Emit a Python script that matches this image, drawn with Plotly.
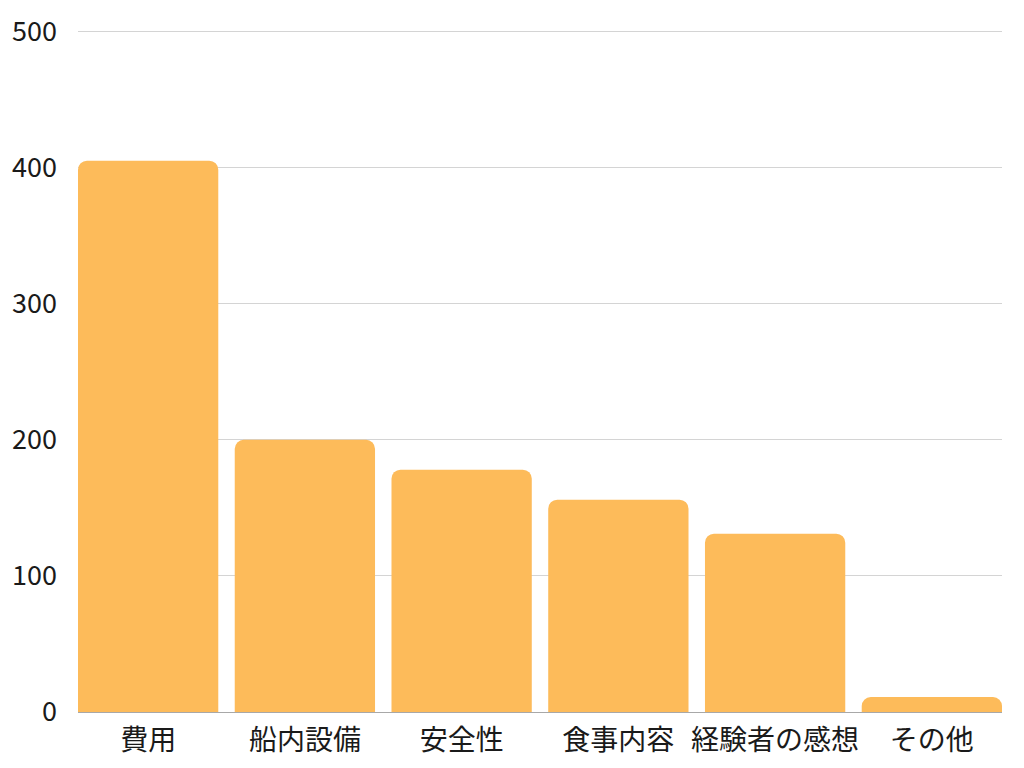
import plotly.graph_objects as go

categories = ["費用", "船内設備", "安全性", "食事内容", "経験者の感想", "その他"]
counts = [405, 200, 178, 156, 131, 11]
y_ticks = [0, 100, 200, 300, 400, 500]

BAR_COLOR = "#FDBB5A"
FONT = "Noto Sans CJK JP, Noto Sans, sans-serif"
BARGAP = 0.105

fig = go.Figure(
    go.Bar(
        x=list(range(len(categories))),
        y=counts,
        marker=dict(color=BAR_COLOR, line=dict(width=0), cornerradius=9),
        hoverinfo="x+y",
    )
)

# la page garde la marge de 8px du body : on compense ici
half = 0.5 - BARGAP / 2
fig.update_layout(
    width=1008,
    height=752,
    margin=dict(l=70, r=14, t=22, b=48),
    bargap=BARGAP,
    plot_bgcolor="white",
    paper_bgcolor="white",
    font=dict(family=FONT, size=27, color="#1a1a1a"),
    showlegend=False,
    xaxis=dict(
        tickmode="array",
        tickvals=list(range(len(categories))),
        ticktext=categories,
        range=[-half, len(categories) - 1 + half],
        showgrid=False,
        zeroline=False,
        showline=False,
        ticks="",
        tickfont=dict(size=28),
        ticklabelstandoff=9,
        automargin=False,
    ),
    yaxis=dict(
        range=[0, 501],
        tickvals=y_ticks,
        showgrid=True,
        gridcolor="#d4d4d4",
        gridwidth=1,
        zeroline=True,
        zerolinecolor="#a8a8a8",
        zerolinewidth=1,
        showline=False,
        ticks="",
        ticklabelstandoff=20,
        automargin=False,
    ),
)

fig.write_html("out.html")
